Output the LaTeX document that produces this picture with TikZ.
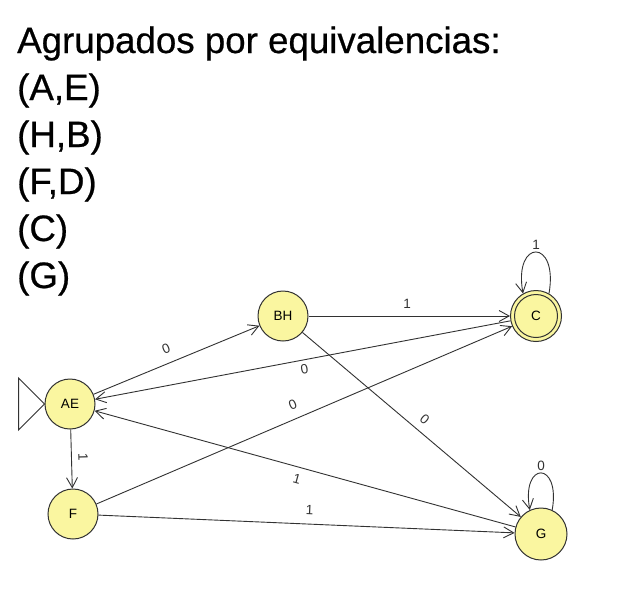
\documentclass[tikz,border=0pt]{standalone}
\usepackage{fontspec}
\setmainfont{Liberation Sans}
\newfontfamily\titlefont[FakeBold=0.6]{Liberation Sans}
\usetikzlibrary{arrows.meta}
\definecolor{nodefill}{RGB}{250,246,160}
\definecolor{linegray}{RGB}{50,50,50}
\begin{document}
\begin{tikzpicture}[x=1pt,y=-1pt,
  state/.style={circle, draw=linegray, fill=nodefill, line width=1pt, minimum size=50pt, inner sep=0pt, font=\fontsize{13.5}{13.5}\selectfont},
  trans/.style={draw=linegray, line width=0.9pt, -{Straight Barb[length=10pt,width=11pt]}},
  lab/.style={font=\fontsize{13.5}{13.5}\selectfont, inner sep=2pt, text=linegray},
  title/.style={anchor=base west, font=\titlefont\fontsize{36.7}{40}\selectfont, inner sep=0pt}]
\path[use as bounding box, fill=white] (0,0) rectangle (624,590);
% text
\node[title] (t0) at (17,53) {Agrupados por equivalencias:};
\node[title] (t1) at (17,100) {(A,E)};
\node[title] (t2) at (17,147) {(H,B)};
\node[title] (t3) at (17,194) {(F,D)};
\node[title] (t4) at (17,241) {(C)};
\node[title] (t5) at (17,288) {(G)};
% states
\node[state] (AE) at (70,404) {AE};
\node[state] (BH) at (283,316) {BH};
\node[state, minimum size=51pt] (C) at (536,316) {};
\draw[linegray, line width=1pt] (C.center) circle (21.5);
\node[font=\fontsize{13.5}{13.5}\selectfont] (Clab) at (C.center) {C};
\node[state] (F) at (73,514) {F};
\node[state, minimum size=52pt] (G) at (541,534) {G};
% start marker
\draw[linegray, line width=1pt] (AE.west) -- ++(-26,-26) -- ++(0,52) -- cycle;
% transitions
\draw[trans] (AE) -- node[lab, sloped, above=7pt, pos=0.47] {0} (BH);
\draw[trans] (BH) -- node[lab, sloped, above=5.5pt, pos=0.49] {1} (C);
\draw[trans] (C) -- node[lab, sloped, below=2.5pt, pos=0.5] {0} (AE);
\draw[trans] (F) -- node[lab, sloped, above=7pt, pos=0.486] {0} (C);
\draw[trans] (BH) -- node[lab, sloped, above=5.5pt, pos=0.523] {0} (G);
\draw[trans] (G) -- node[lab, sloped, below=4.5pt, pos=0.512] {1} (AE);
\draw[trans] (F) -- node[lab, sloped, above=6.5pt, pos=0.506] {1} (G);
\draw[trans] (AE) -- node[lab, sloped, above=4.5pt, pos=0.47] {1} (F);
% loops
\draw[trans] (C.60) .. controls +(-80:56) and +(-100:56) .. node[lab, above=0pt] {1} (C.120);
\draw[trans] (G.65) .. controls +(-80:50) and +(-100:50) .. node[lab, above=0pt] {0} (G.115);
\end{tikzpicture}
\end{document}
